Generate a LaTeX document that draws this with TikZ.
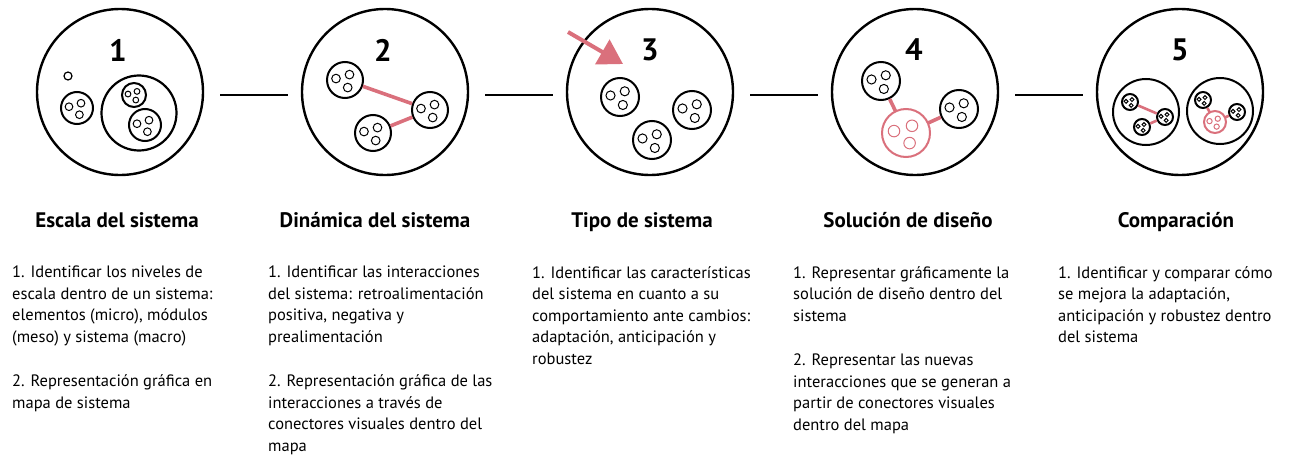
\documentclass[tikz,border=0pt]{standalone}
\usepackage{fontspec}
\setmainfont{PT Sans}
\usepackage{tikz}
\usetikzlibrary{calc, positioning, arrows.meta}
\definecolor{mapink}{RGB}{218,112,124}

\begin{document}
\begin{tikzpicture}[x=1pt, y=-1pt,
    system/.style={circle, draw, line width=2.4pt, minimum size=166pt, inner sep=0pt},
    group/.style={circle, draw, line width=2.2pt, inner sep=0pt},
    element/.style={circle, draw, line width=1.2pt, minimum size=8pt, inner sep=0pt},
    link/.style={line width=2pt},
    feedback/.style={mapink, line width=3.6pt},
    num/.style={font=\fontsize{31}{31}\selectfont\bfseries},
    heading/.style={font=\fontsize{21}{23}\selectfont\bfseries, anchor=base},
    body/.style={font=\fontsize{16.5}{21.5}\selectfont, align=left, anchor=north west, inner sep=0pt},
    pics/module/.style args={#1/#2}{code={
        \node[circle, draw=#2, fill=white, line width=2pt, minimum size={2*#1pt}, inner sep=0pt] (-c) {};
        \draw[#2, line width=1pt] (-0.5*#1, -0.08*#1) circle ({0.24*#1pt})
            (0.25*#1, -0.3*#1) circle ({0.24*#1pt})
            (0.15*#1, 0.42*#1) circle ({0.24*#1pt});
    }}]
    \useasboundingbox (0,0) rectangle (1298,460);

    % Systems
    \node[system] (c1) at (120,92) {};
    \node[system] (c2) at (385,92) {};
    \node[system] (c3) at (650,92) {};
    \node[system] (c4) at (915,92) {};
    \node[system] (c5) at (1180,92) {};

    \node[num] (n1) at (118,50) {1};
    \node[num] (n2) at (383,50) {2};
    \node[num] (n3) at (650,50) {3};
    \node[num] (n4) at (914,50) {4};
    \node[num] (n5) at (1180,50) {5};

    % Connections between steps
    \draw[link] ($(c1.east)+(16,3)$) -- ($(c2.west)+(-13,3)$);
    \draw[link] ($(c2.east)+(16,3)$) -- ($(c3.west)+(-13,3)$);
    \draw[link] ($(c3.east)+(16,3)$) -- ($(c4.west)+(-13,3)$);
    \draw[link] ($(c4.east)+(16,3)$) -- ($(c5.west)+(-13,3)$);

    % 1: scale
    \node[element] (e1) at (68,76) {};
    \pic (m1a) at (77,108) {module=16/black};
    \node[group, minimum size=75pt] (g1) at (139,113) {};
    \pic (m1b) at (134,95) {module=12/black};
    \pic (m1c) at (145,125) {module=16/black};

    % 2: dynamics
    \pic (m2a) at (345,80) {module=18/black};
    \pic (m2b) at (430,110) {module=18/black};
    \pic (m2c) at (373,133) {module=18/black};
    \draw[feedback] (m2a-c) -- (m2b-c);
    \draw[feedback] (m2c-c) -- (m2b-c);

    % 3: type, with incoming change
    \coordinate (a3s) at (568,32);
    \coordinate (a3t) at (623,64);
    \draw[mapink, line width=4pt, -{Triangle[length=24pt, width=28pt]}] (a3s) -- (a3t);
    \pic (m3a) at (620,97) {module=19/black};
    \pic (m3b) at (692,110) {module=19/black};
    \pic (m3c) at (652,140) {module=19/black};

    % 4: design solution
    \pic (m4a) at (881,81) {module=19/black};
    \pic (m4b) at (959,109) {module=19/black};
    \draw[feedback] (m4a-c) -- (906,133) coordinate (s4);
    \draw[feedback] (s4) -- (m4b-c);
    \pic (m4s) at (s4) {module=24/mapink};

    % 5: comparison
    \node[group, line width=2pt, minimum size=66pt] (g5a) at (1146,112) {};
    \node[group, line width=2pt, minimum size=66pt] (g5b) at (1220,111) {};
    \pic (m5a) at (1130,102) {module=8/black};
    \pic (m5b) at (1165,117) {module=8/black};
    \pic (m5c) at (1142,127) {module=8/black};
    \draw[feedback, line width=2.6pt] (m5a-c) -- (m5b-c);
    \draw[feedback, line width=2.6pt] (m5c-c) -- (m5b-c);
    \pic (m5d) at (1203,100) {module=8/black};
    \pic (m5e) at (1237,112) {module=8/black};
    \draw[feedback, line width=2.6pt] (m5d-c) -- (1215,122) coordinate (s5);
    \draw[feedback, line width=2.6pt] (s5) -- (m5e-c);
    \pic (m5s) at (s5) {module=11/mapink};

    % Headings
    \node[heading] (h1) at (117,227) {Escala del sistema};
    \node[heading] (h2) at (375,227) {Dinámica del sistema};
    \node[heading] (h3) at (642,227) {Tipo de sistema};
    \node[heading] (h4) at (908,227) {Solución de diseño};
    \node[heading] (h5) at (1176,227) {Comparación};

    % Descriptions
    \node[body] (t1) at (12,266) {1. Identificar los niveles de\\ escala dentro de un sistema:\\ elementos (micro), módulos\\ (meso) y sistema (macro)\\[23pt] 2. Representación gráfica en\\ mapa de sistema};
    \node[body] (t2) at (268,266) {1. Identificar las interacciones\\ del sistema: retroalimentación\\ positiva, negativa y\\ prealimentación\\[23pt] 2. Representación gráfica de las\\ interacciones a través de\\ conectores visuales dentro del\\ mapa};
    \node[body] (t3) at (532,266) {1. Identificar las características\\ del sistema en cuanto a su\\ comportamiento ante cambios:\\ adaptación, anticipación y\\ robustez};
    \node[body] (t4) at (793,266) {1. Representar gráficamente la\\ solución de diseño dentro del\\ sistema\\[23pt] 2. Representar las nuevas\\ interacciones que se generan a\\ partir de conectores visuales\\ dentro del mapa};
    \node[body] (t5) at (1058,266) {1. Identificar y comparar cómo\\ se mejora la adaptación,\\ anticipación y robustez dentro\\ del sistema};
\end{tikzpicture}
\end{document}
